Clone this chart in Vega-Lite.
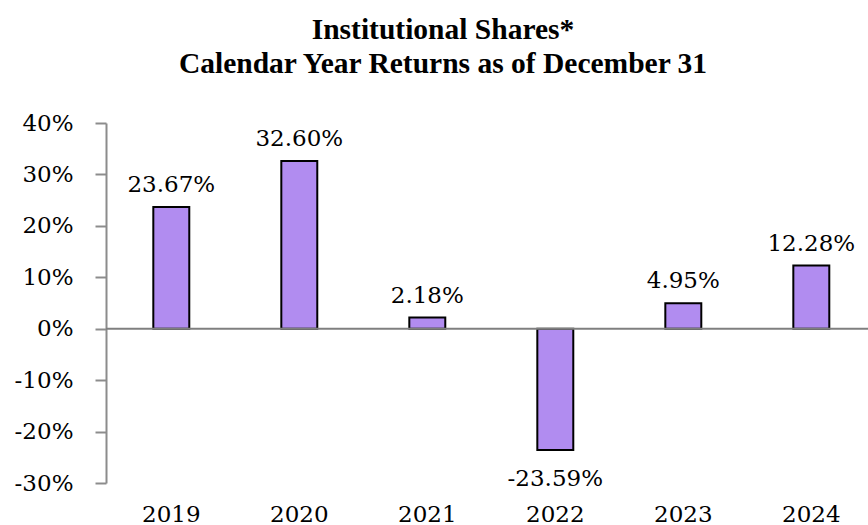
{
  "$schema": "https://vega.github.io/schema/vega-lite/v6.json",
  "width": 762,
  "height": 360,
  "autosize": {"type": "none"},
  "padding": {"left": 106, "top": 123, "right": 0, "bottom": 42},
  "background": "white",
  "config": {
    "view": {"stroke": null}
  },
  "title": {
    "text": ["Institutional Shares*", "Calendar Year Returns as of December 31"],
    "font": "Liberation Serif",
    "fontSize": 29.5,
    "fontWeight": "bold",
    "color": "black",
    "anchor": "middle",
    "frame": "group",
    "dx": -44,
    "offset": 33,
    "lineHeight": 34
  },
  "data": {
    "values": [
      {"year": "2019", "ret": 23.67, "label": "23.67%"},
      {"year": "2020", "ret": 32.60, "label": "32.60%"},
      {"year": "2021", "ret": 2.18, "label": "2.18%"},
      {"year": "2022", "ret": -23.59, "label": "-23.59%"},
      {"year": "2023", "ret": 4.95, "label": "4.95%"},
      {"year": "2024", "ret": 12.28, "label": "12.28%"}
    ]
  },
  "encoding": {
    "x": {
      "field": "year",
      "type": "nominal",
      "sort": null,
      "scale": {"paddingInner": 0.719, "paddingOuter": 0.336, "align": 0.55},
      "axis": {
        "title": null,
        "domain": false,
        "ticks": false,
        "labelAngle": 0,
        "labelFont": "DejaVu Serif",
        "labelFontSize": 23,
        "labelColor": "black",
        "labelBaseline": "alphabetic",
        "labelPadding": 38
      }
    }
  },
  "layer": [
    {
      "mark": {"type": "bar", "fill": "#b18cf0", "stroke": "black", "strokeWidth": 2},
      "encoding": {
        "y": {
          "field": "ret",
          "type": "quantitative",
          "scale": {"domain": [-30, 40], "nice": false, "zero": false},
          "axis": {
            "title": null,
            "values": [-30, -20, -10, 0, 10, 20, 30, 40],
            "labelExpr": "datum.value + '%'",
            "grid": false,
            "domainColor": "#8c8c8c",
            "domainWidth": 2,
            "tickColor": "#8c8c8c",
            "tickWidth": 2,
            "tickSize": 11,
            "labelPadding": 22,
            "labelFont": "DejaVu Serif",
            "labelFontSize": 23,
            "labelColor": "black"
          }
        }
      }
    },
    {
      "data": {"values": [{"z": 0}]},
      "mark": {"type": "rule", "color": "#7f7f7f", "strokeWidth": 2},
      "encoding": {"y": {"field": "z", "type": "quantitative"}, "x": null}
    },
    {
      "transform": [{"filter": "datum.ret >= 0"}],
      "mark": {"type": "text", "baseline": "alphabetic", "dy": -15, "fontSize": 23, "font": "DejaVu Serif", "color": "black"},
      "encoding": {
        "y": {"field": "ret", "type": "quantitative"},
        "text": {"field": "label"}
      }
    },
    {
      "transform": [{"filter": "datum.ret < 0"}],
      "mark": {"type": "text", "baseline": "alphabetic", "dy": 36, "fontSize": 23, "font": "DejaVu Serif", "color": "black"},
      "encoding": {
        "y": {"field": "ret", "type": "quantitative"},
        "text": {"field": "label"}
      }
    }
  ]
}
